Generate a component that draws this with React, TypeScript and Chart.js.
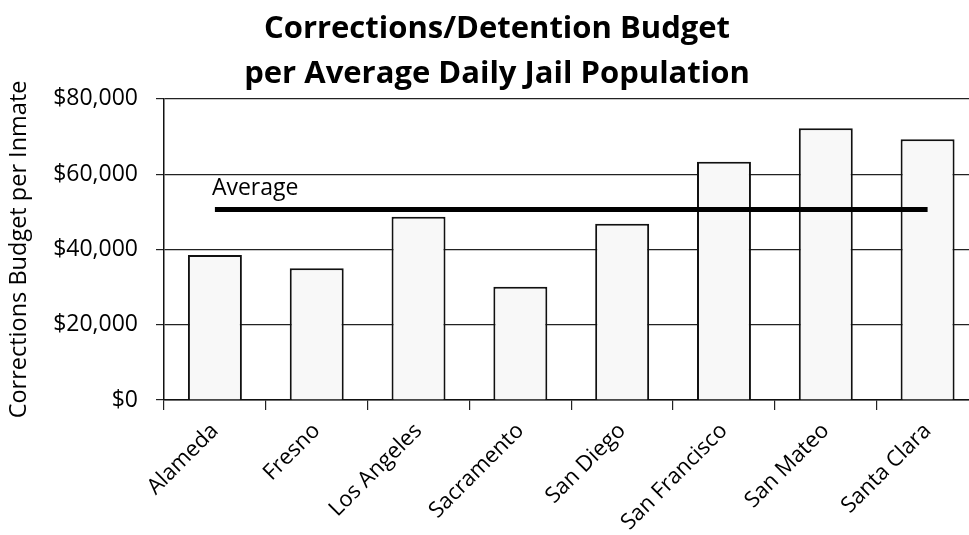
import React, { useEffect, useRef } from 'react';
import { Chart, registerables } from 'chart.js';

Chart.register(...registerables);

const categories = ['Alameda', 'Fresno', 'Los Angeles', 'Sacramento', 'San Diego', 'San Francisco', 'San Mateo', 'Santa Clara'];
const budgetPerInmate = [38500, 35000, 48700, 30100, 46800, 63300, 72200, 69300];
const averageSeries = [50600, 50600, 50600, 50600, 50600, 50600, 50600, 50600];
const yTicks = [0, 20000, 40000, 60000, 80000];
const titleLines = ['Corrections/Detention Budget', 'per Average Daily Jail Population'];
const yAxisTitle = 'Corrections Budget per Inmate';
const averageLabel = 'Average';

const FONT = '"Open Sans", "Noto Sans", sans-serif';

const averageLabelPlugin = {
  id: 'averageLabel',
  afterDatasetsDraw(chart: any) {
    const meta = chart.getDatasetMeta(0);
    const pt = meta.data[0];
    if (!pt) return;
    const ctx = chart.ctx;
    ctx.save();
    ctx.font = `23px ${FONT}`;
    ctx.fillStyle = '#000';
    ctx.textAlign = 'left';
    ctx.textBaseline = 'alphabetic';
    ctx.fillText(averageLabel, pt.x - 3, pt.y - 15);
    ctx.restore();
  },
};

export default function App() {
  const canvasRef = useRef<HTMLCanvasElement | null>(null);

  useEffect(() => {
    if (!canvasRef.current) return;
    const chart = new Chart(canvasRef.current, {
      type: 'bar',
      data: {
        labels: categories,
        datasets: [
          {
            type: 'line',
            label: 'Average',
            data: averageSeries,
            borderColor: '#000',
            borderWidth: 5,
            pointRadius: 0,
            fill: false,
            order: 0,
            borderCapStyle: 'butt',
          } as any,
          {
            type: 'bar',
            label: 'Budget per Inmate',
            data: budgetPerInmate,
            backgroundColor: '#f8f8f8',
            borderColor: '#111',
            borderWidth: 2,
            categoryPercentage: 1,
            barPercentage: 0.53,
            order: 1,
          },
        ],
      },
      options: {
        responsive: false,
        animation: false,
        devicePixelRatio: 1,
        layout: { padding: { left: 15.5, right: 15.5, top: 0, bottom: 0 } },
        plugins: {
          legend: { display: false },
          tooltip: { enabled: false },
          title: {
            display: true,
            text: titleLines,
            color: '#000',
            font: { family: FONT, size: 31, weight: 'bold', lineHeight: 1.45 },
            padding: { top: 7, bottom: 2 },
          },
        },
        scales: {
          x: {
            grid: { display: true, drawOnChartArea: false, drawTicks: true, tickLength: 10, color: '#222', lineWidth: 1.2 },
            border: { display: true, color: '#111', width: 1.5 },
            ticks: {
              color: '#000',
              font: { family: FONT, size: 22 },
              minRotation: 45,
              maxRotation: 45,
              autoSkip: false,
              padding: 8,
            },
            afterFit: (s: any) => { s.height = 135; },
          },
          y: {
            min: 0,
            max: 80000,
            afterBuildTicks: (axis: any) => { axis.ticks = yTicks.map((v) => ({ value: v })); },
            grid: { color: '#222', lineWidth: 1.2, tickLength: 8, drawTicks: true },
            border: { display: true, color: '#111', width: 1.5 },
            ticks: {
              padding: 18,
              color: '#000',
              font: { family: FONT, size: 23 },
              callback: (v: any) => '$' + Number(v).toLocaleString('en-US'),
            },
            title: {
              display: true,
              text: yAxisTitle,
              color: '#000',
              font: { family: FONT, size: 23.5 },
              padding: { top: -10, bottom: 0 },
            },
            afterFit: (s: any) => { s.width = 148.5; },
          },
        },
      },
      plugins: [averageLabelPlugin],
    });
    return () => chart.destroy();
  }, []);

  return (
    <div style={{ position: 'fixed', left: 0, top: 0, width: 969, height: 535, overflow: 'hidden', background: '#fff' }}>
      <canvas ref={canvasRef} width={994} height={535} style={{ display: 'block' }} />
    </div>
  );
}
